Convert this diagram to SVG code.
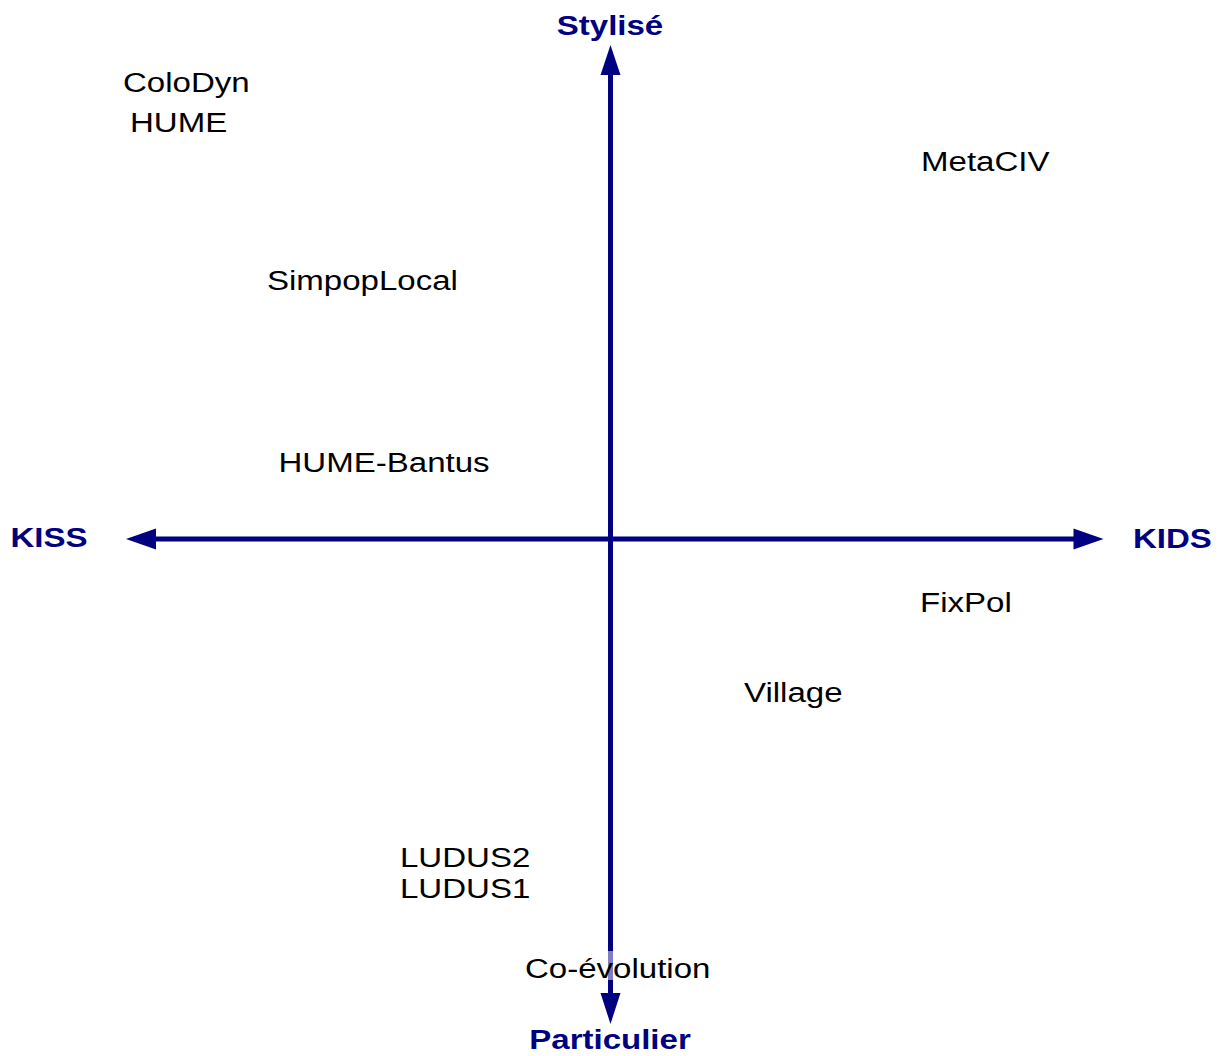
<svg xmlns="http://www.w3.org/2000/svg" width="1220" height="1056" viewBox="0 0 1220 1056">
  <style>
    .lbl { font-family: "Liberation Sans", Arial, sans-serif; font-size: 28px; fill: #000000; }
    .axl { font-family: "Liberation Sans", Arial, sans-serif; font-size: 28px; font-weight: bold; fill: #000080; }
    .axis { stroke: #000080; stroke-width: 5; fill: none; }
    .head { fill: #000080; stroke: none; }
  </style>
  <rect x="0" y="0" width="1220" height="1056" fill="#ffffff"/>
  <g id="connectors">
    <line class="axis" x1="610.5" y1="72" x2="610.5" y2="996"/>
    <polygon class="head" points="610.5,45 600.5,75 620.5,75"/>
    <polygon class="head" points="610.5,1024 600.5,993 620.5,993"/>
    <line class="axis" x1="153" y1="539" x2="1076" y2="539"/>
    <polygon class="head" points="126,539 156,528.5 156,549.5"/>
    <polygon class="head" points="1103.5,539 1073.5,528.5 1073.5,549.5"/>
  </g>
  <g id="axis-labels">
    <g id="stylise"><text class="axl" text-anchor="middle" transform="translate(610,35) scale(1.18,1)">Stylisé</text></g>
    <g id="particulier"><text class="axl" text-anchor="middle" transform="translate(610,1049) scale(1.18,1)">Particulier</text></g>
    <g id="kiss"><text class="axl" transform="translate(10.5,547) scale(1.18,1)">KISS</text></g>
    <g id="kids"><text class="axl" transform="translate(1133,548) scale(1.18,1)">KIDS</text></g>
  </g>
  <g id="nodes">
    <g id="colodyn"><text class="lbl" transform="translate(123,92) scale(1.18,1)">ColoDyn</text></g>
    <g id="hume"><text class="lbl" transform="translate(130,132) scale(1.18,1)">HUME</text></g>
    <g id="metaciv"><text class="lbl" transform="translate(921,171) scale(1.18,1)">MetaCIV</text></g>
    <g id="simpoplocal"><text class="lbl" transform="translate(267,290) scale(1.18,1)">SimpopLocal</text></g>
    <g id="hume-bantus"><text class="lbl" transform="translate(278.5,472) scale(1.18,1)">HUME-Bantus</text></g>
    <g id="fixpol"><text class="lbl" transform="translate(920,612) scale(1.18,1)">FixPol</text></g>
    <g id="village"><text class="lbl" transform="translate(744,702) scale(1.18,1)">Village</text></g>
    <g id="ludus2"><text class="lbl" transform="translate(400,867) scale(1.18,1)">LUDUS2</text></g>
    <g id="ludus1"><text class="lbl" transform="translate(400,898) scale(1.18,1)">LUDUS1</text></g>
    <g id="co-evolution">
      <rect x="524" y="951" width="190" height="29" fill="#ffffff" fill-opacity="0.5"/>
      <text class="lbl" transform="translate(525,978) scale(1.18,1)">Co-évolution</text>
    </g>
  </g>
</svg>
